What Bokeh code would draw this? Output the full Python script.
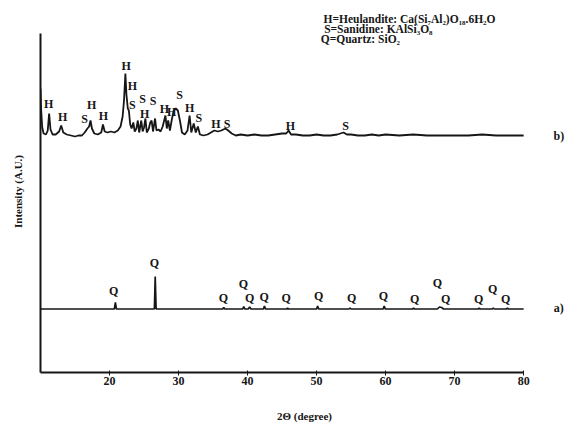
from bokeh.plotting import figure
from bokeh.models import Range1d, FixedTicker
from bokeh.core.properties import value
from bokeh.embed import file_html
from bokeh.resources import INLINE

# ---- data (2-theta in degrees, intensity in arbitrary units) ----
b_theta = [10.00, 10.10, 10.25, 10.45, 10.80, 11.05, 11.25, 11.45, 11.75, 12.20, 12.70, 13.00,
           13.30, 13.80, 14.40, 15.00, 15.50, 16.00, 16.40, 16.80, 17.05, 17.25, 17.45, 17.80,
           18.30, 18.80, 19.05, 19.30, 19.70, 20.20, 20.70, 21.20, 21.60, 21.90, 22.10, 22.30,
           22.45, 22.65, 22.80, 23.00, 23.20, 23.45, 23.65, 23.90, 24.10, 24.30, 24.60, 24.80,
           25.00, 25.20, 25.40, 25.70, 25.90, 26.10, 26.30, 26.60, 26.80, 27.10, 27.40, 27.70,
           28.10, 28.30, 28.50, 28.75, 29.00, 29.30, 29.60, 29.90, 30.20, 30.50, 30.90, 31.30,
           31.60, 31.85, 32.20, 32.50, 32.80, 33.10, 33.60, 34.20, 34.70, 35.20, 35.70, 36.20,
           36.80, 37.20, 37.70, 38.30, 39.00, 40.00, 41.00, 42.00, 43.00, 44.00, 45.00, 45.60,
           45.95, 46.30, 47.00, 48.00, 49.00, 50.00, 51.00, 52.00, 53.00, 53.90, 54.40, 55.00,
           56.00, 57.00, 58.00, 59.00, 60.00, 62.00, 64.00, 66.00, 68.00, 70.00, 72.00, 74.00,
           76.00, 78.00, 80.00]
b_int = [284, 262, 245, 239, 238, 242, 259, 243, 238, 238, 241, 247,
         240, 238, 237, 236, 237, 237, 240, 244, 246, 252, 244, 239,
         238, 240, 248, 241, 240, 241, 240, 242, 246, 256, 272, 299,
         278, 264, 262, 248, 244, 250, 241, 244, 252, 240, 252, 241,
         245, 254, 240, 244, 250, 252, 241, 254, 242, 243, 241, 246,
         257, 244, 252, 242, 252, 262, 264, 262, 252, 240, 238, 242,
         257, 240, 249, 240, 246, 238, 237, 238, 240, 242, 241, 242,
         244, 242, 239, 237, 238, 237, 238, 237, 237, 238, 239, 239,
         242, 238, 238, 237, 237, 238, 237, 237, 238, 240, 238, 238,
         237, 237, 238, 237, 238, 237, 238, 237, 237, 237, 237, 238,
         237, 237, 237]

a_theta = [10.00, 20.70, 20.85, 21.00, 26.50, 26.62, 26.75, 36.40, 36.55, 36.70, 39.30, 39.45,
           39.60, 40.10, 40.30, 40.50, 42.30, 42.45, 42.60, 45.70, 45.80, 45.90, 50.00, 50.15,
           50.30, 54.70, 54.85, 55.00, 59.65, 59.80, 59.95, 63.90, 64.05, 64.20, 67.50, 67.80,
           68.10, 68.40, 73.40, 73.55, 73.70, 75.45, 75.60, 75.75, 77.50, 77.65, 77.80, 80.00]
a_int = [63.5, 63.5, 70, 63.5, 63.5, 96, 63.5, 63.5, 65, 63.5, 63.5, 66,
         63.5, 63.5, 65.5, 63.5, 63.5, 66.5, 63.5, 63.5, 64.5, 63.5, 63.5, 66.5,
         63.5, 63.5, 64.5, 63.5, 63.5, 66.5, 63.5, 63.5, 64.3, 63.5, 63.5, 65.5,
         65, 63.5, 63.5, 64.3, 63.5, 63.5, 64.5, 63.5, 63.5, 64.3, 63.5, 63.5]

# phase labels on pattern b (heulandite H, sanidine S)
b_lab = ["H", "H", "S", "H", "H", "H", "H", "S", "S", "H", "S", "H", "H", "S", "H", "S",
         "H", "S", "H", "S"]
b_lab_x = [11.2, 13.2, 16.4, 17.4, 19.1, 22.4, 23.3, 23.3, 24.8, 25.1, 26.3, 27.95, 29.0,
           30.15, 31.6, 32.95, 35.4, 37.05, 46.2, 54.2]
b_lab_y = [269, 256, 254, 268, 257, 307, 287, 268, 274, 259, 272, 264, 261, 278, 265, 255,
           249, 249, 247, 247]

# quartz labels on pattern a
a_lab = ["Q"] * 16
a_lab_x = [20.6, 26.5, 36.5, 39.4, 40.3, 42.4, 45.6, 50.3, 55.1, 59.7, 64.2, 67.5, 68.7,
           73.5, 75.5, 77.4]
a_lab_y = [82, 110, 75, 89, 75, 76, 75, 77, 75, 77, 74, 90, 74, 74, 84, 74]

legend_lines = ["H=Heulandite: Ca(Si\u2087Al\u2082)O\u2081\u2088.6H\u2082O",
                "S=Sanidine: KAlSi\u2083O\u2088",
                "Q=Quartz: SiO\u2082"]
legend_x = [51.0, 51.1, 50.6]
legend_y = [354, 344, 334]

series_tags = ["b)", "a)"]
tag_x = [85.1, 85.1]
tag_y = [237, 65]

x_ticks = [20, 30, 40, 50, 60, 70, 80]

FONT = "Liberation Serif"
INK = "#161616"

p = figure(width=570, height=427, output_backend="svg", toolbar_location=None,
           x_range=Range1d(10, 86.5), y_range=Range1d(0, 362),
           min_border_left=40, min_border_right=2, min_border_top=10, min_border_bottom=55)
p.outline_line_color = None
p.grid.visible = False
p.background_fill_color = "white"
p.border_fill_color = "white"

p.line(b_theta, b_int, line_color=INK, line_width=1.8)
p.line(a_theta, a_int, line_color=INK, line_width=1.7)

common = dict(text_font=value(FONT), text_font_style="bold", text_color=INK,
              text_align="center", text_baseline="middle")
p.text(x=b_lab_x, y=b_lab_y, text=b_lab, text_font_size="12px", **common)
p.text(x=a_lab_x, y=a_lab_y, text=a_lab, text_font_size="12px", **common)
p.text(x=tag_x, y=tag_y, text=series_tags, text_font_size="12px", **common)
p.text(x=legend_x, y=legend_y, text=legend_lines, text_font_size="11.5px",
       text_font=value(FONT), text_font_style="bold", text_color=INK,
       text_align="left", text_baseline="middle")

# axes
xa = p.xaxis[0]
xa.bounds = (10, 80)
xa.ticker = FixedTicker(ticks=x_ticks, minor_ticks=[])
xa.axis_line_width = 2
xa.axis_line_color = INK
xa.major_tick_out = 3
xa.major_tick_in = 2
xa.major_tick_line_color = INK
xa.minor_tick_line_color = None
xa.major_label_text_font = FONT
xa.major_label_text_font_style = "bold"
xa.major_label_text_font_size = "12px"
xa.major_label_text_color = INK
xa.major_label_standoff = 1
xa.axis_label = "2\u0398 (degree)"
xa.axis_label_text_font = FONT
xa.axis_label_text_font_style = "bold"
xa.axis_label_text_font_size = "11px"
xa.axis_label_text_color = INK
xa.axis_label_standoff = 22

ya = p.yaxis[0]
ya.bounds = (0, 339)
ya.ticker = FixedTicker(ticks=[], minor_ticks=[])
ya.axis_line_width = 2
ya.axis_line_color = INK
ya.major_tick_line_color = None
ya.minor_tick_line_color = None
ya.major_label_text_font_size = "0px"
ya.axis_label = "Intensity (A.U.)"
ya.axis_label_text_font = FONT
ya.axis_label_text_font_style = "bold"
ya.axis_label_text_font_size = "11px"
ya.axis_label_text_color = INK
ya.axis_label_standoff = 17

open("out.html", "w").write(file_html(p, INLINE))
